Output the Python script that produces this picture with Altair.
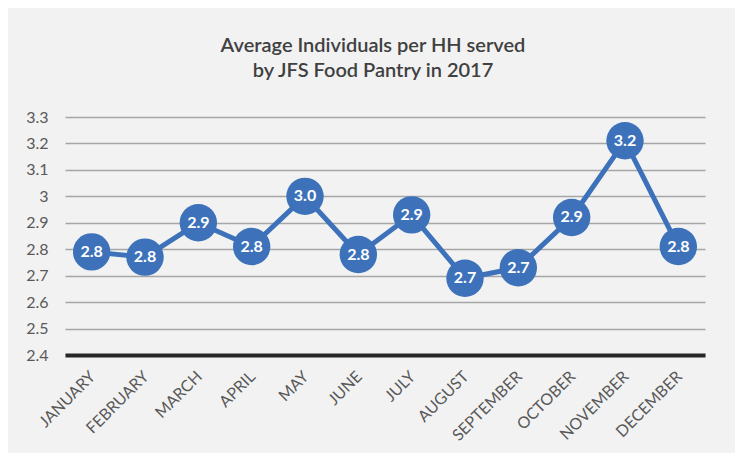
import altair as alt
import pandas as pd

months = ["JANUARY", "FEBRUARY", "MARCH", "APRIL", "MAY", "JUNE", "JULY",
          "AUGUST", "SEPTEMBER", "OCTOBER", "NOVEMBER", "DECEMBER"]
values = [2.79, 2.77, 2.90, 2.81, 3.00, 2.78, 2.93, 2.69, 2.73, 2.92, 3.21, 2.81]
y_ticks = [2.4, 2.5, 2.6, 2.7, 2.8, 2.9, 3.0, 3.1, 3.2, 3.3]
title_lines = ["Average Individuals per HH served", "by JFS Food Pantry in 2017"]

df = pd.DataFrame({"month": months, "value": values})

FONT = "Lato"
BLUE = "#3d72bb"

base = alt.Chart(df).encode(
    x=alt.X("month:N", sort=months, title=None,
            axis=alt.Axis(labelAngle=-45, labelFontSize=16, labelColor="#595959",
                          labelFont=FONT, labelPadding=13, labelOffset=-5, ticks=False,
                          domainColor="#262626", domainWidth=4, grid=False)),
    y=alt.Y("value:Q", title=None,
            scale=alt.Scale(domain=[2.4, 3.3], nice=False, zero=False),
            axis=alt.Axis(values=y_ticks, format=".1~f", labelFontSize=16,
                          labelColor="#595959", labelFont=FONT, labelPadding=17,
                          ticks=False, domain=False, gridColor="#a6a6a6",
                          gridWidth=1.5)),
)

line = base.mark_line(color=BLUE, strokeWidth=5)
dots = base.mark_circle(color=BLUE, size=1400, opacity=1)
labels = base.mark_text(color="white", fontSize=16, fontWeight="bold", font=FONT).encode(
    text=alt.Text("value:Q", format=".1f"))

chart = (line + dots + labels).properties(
    width=640, height=238,
    title=alt.TitleParams(title_lines, fontSize=20, font=FONT, color="#404040",
                          fontWeight=600, anchor="middle", offset=28,
                          lineHeight=25, dx=-12),
    autosize=alt.AutoSizeParams(type="none"),
    padding={"left": 57, "top": 109, "right": 30, "bottom": 98},
    background="#f2f2f2",
).configure_view(stroke=None)

chart.save("out.html", embed_options={"renderer": "svg", "actions": False})
